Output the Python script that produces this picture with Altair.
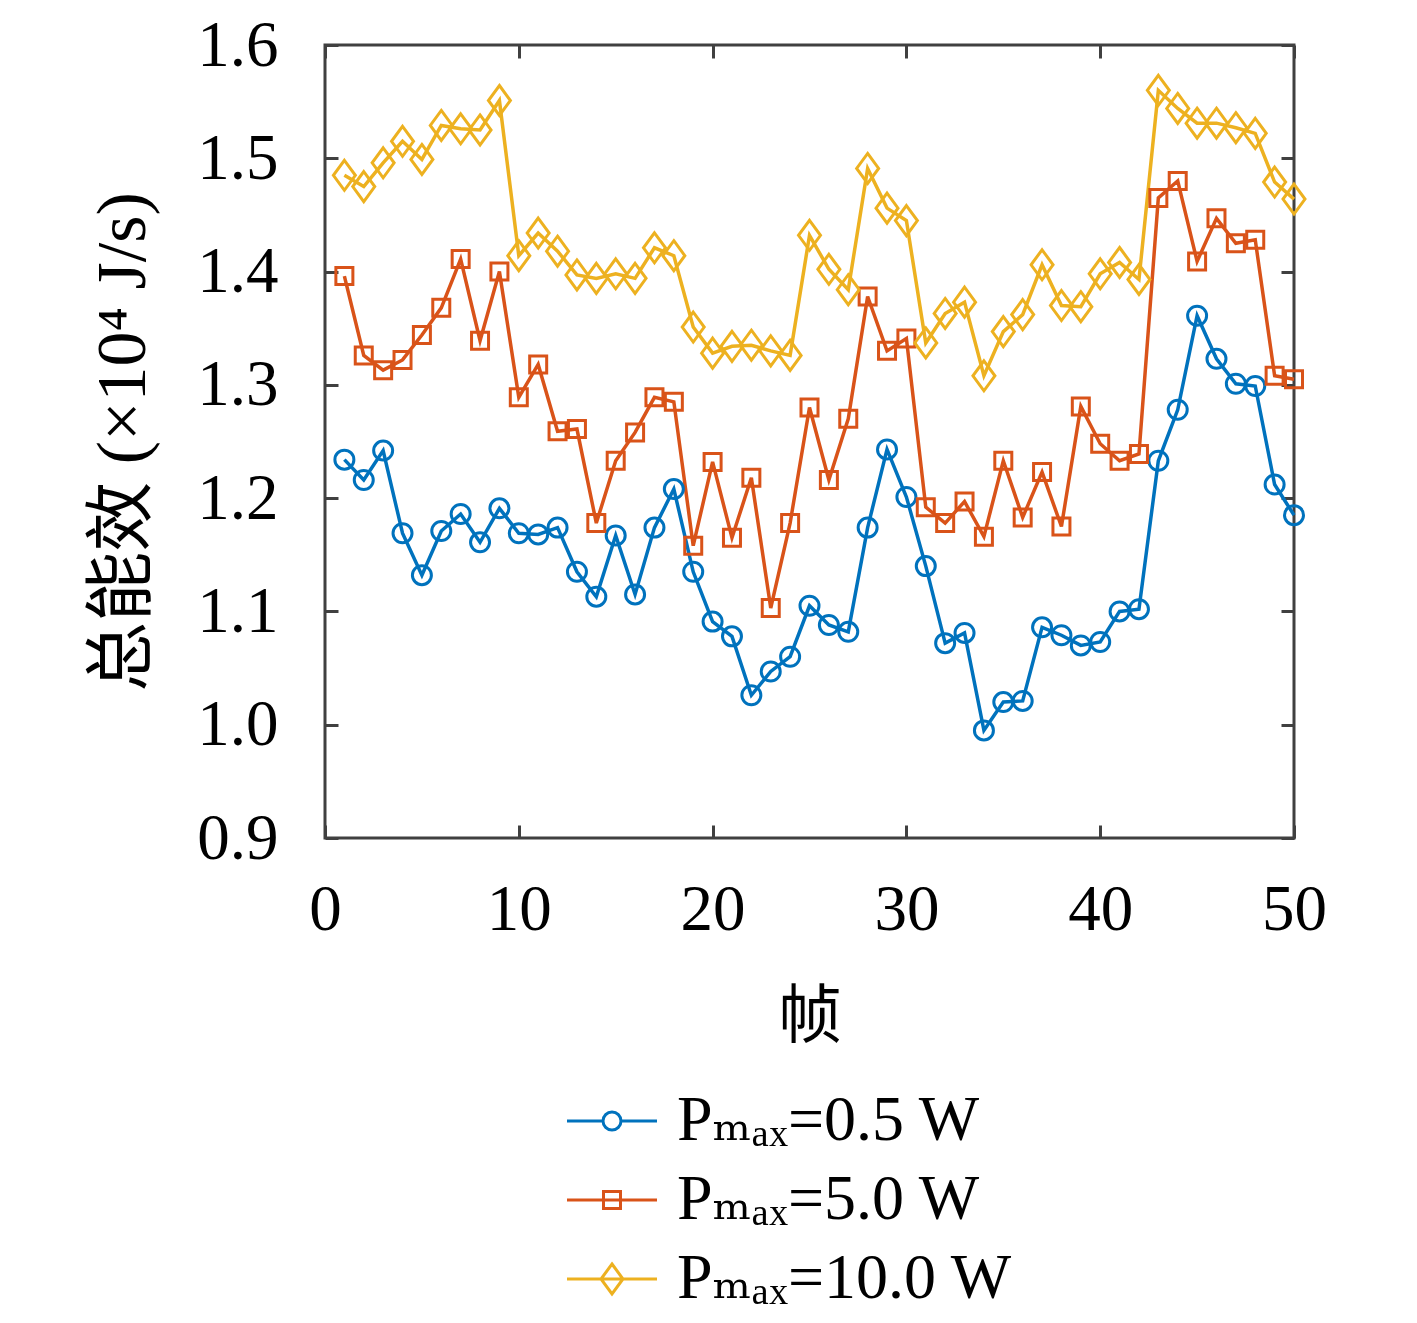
import altair as alt
import pandas as pd

frames = list(range(1, 51))

p_05 = [1.234, 1.216, 1.242, 1.169, 1.132, 1.171, 1.186, 1.161, 1.191, 1.169,
        1.168, 1.174, 1.135, 1.113, 1.167, 1.115, 1.174, 1.208, 1.135, 1.091,
        1.078, 1.026, 1.047, 1.060, 1.105, 1.088, 1.082, 1.174, 1.243, 1.201,
        1.140, 1.072, 1.081, 0.995, 1.020, 1.021, 1.086, 1.079, 1.070, 1.073,
        1.100, 1.102, 1.233, 1.278, 1.361, 1.323, 1.301, 1.299, 1.212, 1.185]

p_50 = [1.396, 1.326, 1.313, 1.322, 1.344, 1.368, 1.411, 1.339, 1.400, 1.289,
        1.318, 1.259, 1.261, 1.178, 1.233, 1.258, 1.289, 1.285, 1.158, 1.232,
        1.165, 1.218, 1.103, 1.178, 1.280, 1.216, 1.270, 1.378, 1.330, 1.341,
        1.192, 1.178, 1.197, 1.166, 1.233, 1.183, 1.223, 1.175, 1.281, 1.248,
        1.233, 1.239, 1.465, 1.480, 1.409, 1.447, 1.425, 1.428, 1.308, 1.305]

p_100 = [1.485, 1.475, 1.496, 1.515, 1.499, 1.529, 1.526, 1.525, 1.551, 1.414,
         1.434, 1.418, 1.397, 1.394, 1.398, 1.394, 1.421, 1.414, 1.351, 1.328,
         1.334, 1.335, 1.330, 1.326, 1.432, 1.402, 1.384, 1.491, 1.456, 1.445,
         1.337, 1.363, 1.373, 1.308, 1.347, 1.362, 1.406, 1.370, 1.369, 1.398,
         1.408, 1.393, 1.560, 1.544, 1.531, 1.531, 1.527, 1.522, 1.479, 1.464]

series_labels = ["Pₘₐₓ=0.5 W", "Pₘₐₓ=5.0 W", "Pₘₐₓ=10.0 W"]
series_colors = ["#0072BD", "#D95319", "#EDB120"]
x_ticks = [0, 10, 20, 30, 40, 50]
y_ticks = [0.9, 1.0, 1.1, 1.2, 1.3, 1.4, 1.5, 1.6]

marker_paths = [
    "M-0.95,0A0.95,0.95 0 1,0 0.95,0A0.95,0.95 0 1,0 -0.95,0Z",
    "M-0.85,-0.85H0.85V0.85H-0.85Z",
    "M0,-1.5L1.1,0L0,1.5L-1.1,0Z",
]
legend_paths = [
    "M-4.5,0H-0.9M0.9,0H4.5M-0.9,0A0.9,0.9 0 1,0 0.9,0A0.9,0.9 0 1,0 -0.9,0Z",
    "M-4.5,0H4.5M-0.85,-0.85H0.85V0.85H-0.85Z",
    "M-4.5,0H4.5M0,-1.5L1.1,0L0,1.5L-1.1,0Z",
]

rows = []
for lab, vals in zip(series_labels, [p_05, p_50, p_100]):
    for f, v in zip(frames, vals):
        rows.append({"frame": f, "value": v, "series": lab})
df = pd.DataFrame(rows)

SERIF = "Liberation Serif, DejaVu Serif, Noto Sans CJK SC"
FRAME = "#404040"

x_scale = alt.Scale(domain=[0, 50], nice=False, zero=False)
y_scale = alt.Scale(domain=[0.9, 1.6], nice=False, zero=False)
color_scale = alt.Scale(domain=series_labels, range=series_colors)

common_axis = dict(
    offset=-13, tickSize=13, tickWidth=3, tickColor=FRAME, domain=False,
    grid=False, labelOverlap=False, labelFlush=False,
)

base = alt.Chart(df)

lines = base.mark_line(strokeWidth=3.5).encode(
    x=alt.X("frame:Q", scale=x_scale, axis=alt.Axis(
        orient="bottom", values=x_ticks, format="d",
        labelFont=SERIF, labelFontSize=65, labelColor="black", labelPadding=40,
        title="帧", titleFont=SERIF, titleFontSize=64, titleFontWeight="normal",
        titleColor="black", titlePadding=43, **common_axis)),
    y=alt.Y("value:Q", scale=y_scale, axis=alt.Axis(
        orient="left", values=y_ticks, format=".1f",
        labelFont=SERIF, labelFontSize=65, labelColor="black", labelPadding=47,
        title="总能效 (×10⁴ J/s)", titleFont=SERIF, titleFontSize=70,
        titleFontWeight="normal", titleColor="black", titlePadding=37,
        **common_axis)),
    color=alt.Color("series:N", scale=color_scale, legend=None),
)

points = base.mark_point(filled=False, strokeWidth=3, size=400, opacity=1).encode(
    x=alt.X("frame:Q", scale=x_scale, axis=alt.Axis(
        orient="top", values=x_ticks, labels=False, title=None, **common_axis)),
    y=alt.Y("value:Q", scale=y_scale, axis=alt.Axis(
        orient="right", values=y_ticks, labels=False, title=None, **common_axis)),
    color=alt.Color("series:N", scale=color_scale, legend=None),
    shape=alt.Shape("series:N", scale=alt.Scale(domain=series_labels, range=marker_paths), legend=None),
)

leg = alt.Legend(
    title=None, orient="none", legendX=255, legendY=1044, direction="vertical",
    labelFont=SERIF, labelFontSize=64, labelColor="black", labelLimit=0,
    labelOffset=33, symbolSize=400, symbolStrokeWidth=3, symbolOpacity=1,
    rowPadding=15, padding=0,
)

legend_layer = base.mark_point(filled=False, strokeWidth=3, size=400, opacity=0).encode(
    x=alt.X("frame:Q", scale=x_scale, axis=None),
    y=alt.Y("value:Q", scale=y_scale, axis=None),
    color=alt.Color("series:N", scale=color_scale, legend=leg),
    shape=alt.Shape("series:N", scale=alt.Scale(domain=series_labels, range=legend_paths), legend=leg),
)

chart = alt.layer(lines, points, legend_layer).resolve_scale(
    color="independent", shape="independent"
).resolve_axis(
    x="independent", y="independent"
).properties(
    width=969, height=793,
    autosize=alt.AutoSizeParams(type="none"),
    padding={"left": 317, "top": 37, "right": 100, "bottom": 478},
    background="white",
).configure_view(
    stroke=FRAME, strokeWidth=3
)

chart.save("out.html", embed_options={"renderer": "svg", "actions": False})
